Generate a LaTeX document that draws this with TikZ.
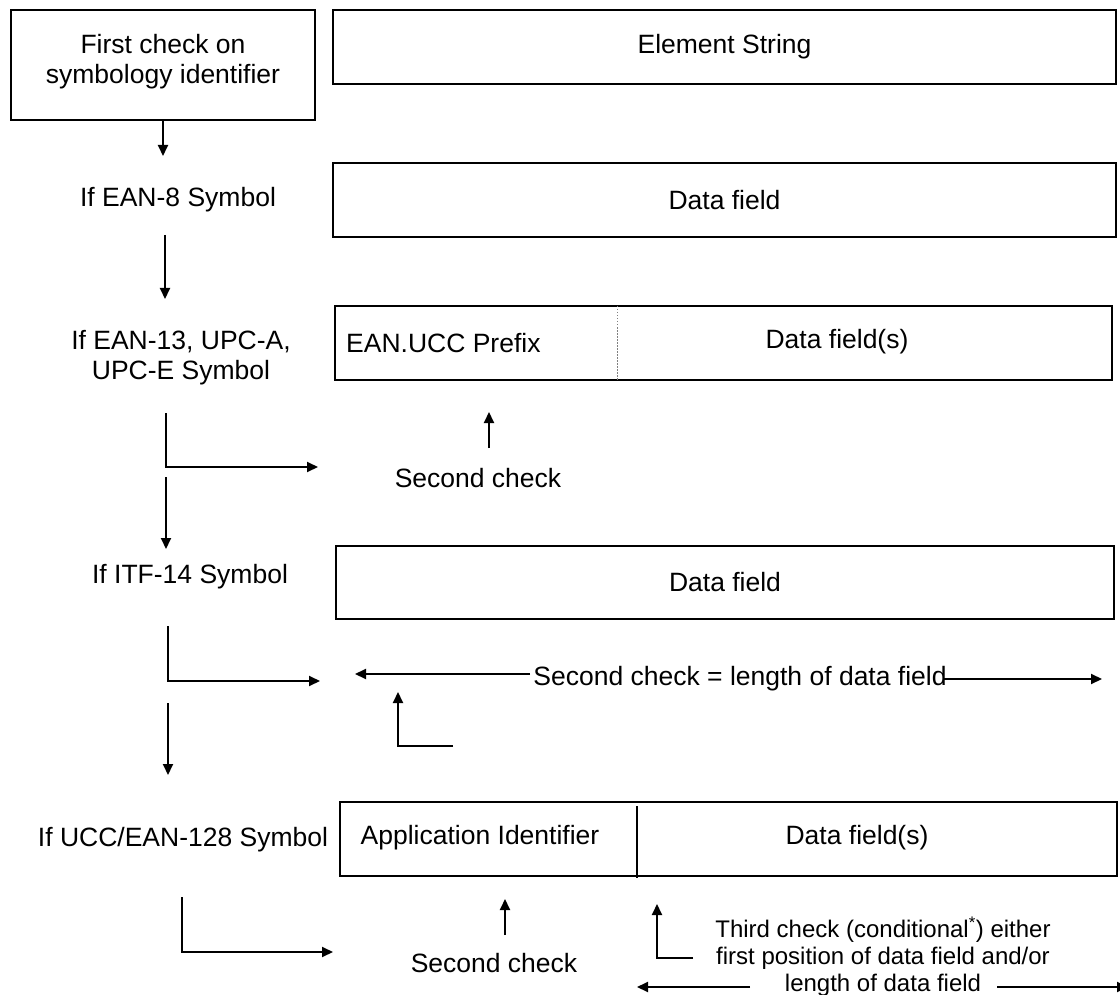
\documentclass[tikz,border=0pt]{standalone}
\usepackage{fontspec}
\setmainfont{Liberation Sans}
\usetikzlibrary{arrows.meta}
\begin{document}
\begin{tikzpicture}[x=1pt,y=-1pt,
  txt/.style={inner sep=0pt,font=\fontsize{26.5}{30}\selectfont,align=center},
  smalltxt/.style={inner sep=0pt,font=\fontsize{24}{27}\selectfont,align=center},
  box/.style={draw,line width=2.4pt,inner sep=0pt},
  conn/.style={line width=2pt,-{Triangle[length=11pt,width=10pt]}}]
\useasboundingbox (0,0) rectangle (1120,995);

% boxes
\node[box,minimum width=304pt,minimum height=110pt] (b1) at (163,65) {};
\node[txt] (b1t) at (163,62) {First check on\\symbology identifier};
\node[box,minimum width=783pt,minimum height=74pt] (es) at (724.5,47) {};
\node[txt] (est) at (724.5,47) {Element String};

\node[txt] (l1) at (178,200) {If EAN-8 Symbol};
\node[box,minimum width=783pt,minimum height=74pt] (df1) at (724.5,200) {};
\node[txt] (df1t) at (724.5,200) {Data field};

\node[txt] (l2) at (181,358) {If EAN-13, UPC-A,\\UPC-E Symbol};
\node[box,minimum width=777pt,minimum height=74pt] (ean) at (723.5,343) {};
\coordinate (eandt) at (617,306);
\coordinate (eandb) at (617,380);
\draw[gray,line width=1pt,dash pattern=on 1.5pt off 1.5pt] (eandt) -- (eandb);
\node[txt,anchor=west] (eanp) at (346,343) {EAN.UCC Prefix};
\node[txt] (eand) at (837,342) {Data field(s)};
\node[txt] (sc1) at (478,478) {Second check};

\node[txt] (l3) at (190,577) {If ITF-14 Symbol};
\node[box,minimum width=778pt,minimum height=73pt] (itf) at (725,582.5) {};
\node[txt] (itft) at (725,582) {Data field};
\node[txt] (sc2) at (740,679) {Second check = length of data field};

\node[txt] (l4) at (183,840) {If UCC/EAN-128 Symbol};
\node[box,minimum width=777pt,minimum height=74pt] (ucc) at (728.5,839) {};
\coordinate (uccdt) at (637,806);
\coordinate (uccdb) at (637,878);
\draw[line width=2pt] (uccdt) -- (uccdb);
\node[txt] (ai) at (480,838) {Application Identifier};
\node[txt] (uccd) at (857,838) {Data field(s)};
\node[txt] (sc3) at (494,963) {Second check};
\node[smalltxt] (tc) at (883,957) {Third check (conditional\textsuperscript{*}) either\\first position of data field and/or\\length of data field};

% coordinates
\coordinate (a1e) at (163,156);
\coordinate (a2s) at (165,235);
\coordinate (a2e) at (165,299);
\coordinate (e1s) at (166,413);
\coordinate (e1c) at (166,467);
\coordinate (e1e) at (318,467);
\coordinate (a3s) at (166,477);
\coordinate (a3e) at (166,549);
\coordinate (u1s) at (489,448);
\coordinate (u1e) at (489,412);
\coordinate (e2s) at (168,626);
\coordinate (e2c) at (168,681);
\coordinate (e2e) at (320,681);
\coordinate (lls) at (530,674);
\coordinate (lle) at (355,674);
\coordinate (lrs) at (943,679);
\coordinate (lre) at (1102,679);
\coordinate (uls) at (453,746);
\coordinate (ulc) at (398,746);
\coordinate (ule) at (398,692);
\coordinate (a4s) at (168,703);
\coordinate (a4e) at (168,775);
\coordinate (e3s) at (182,897);
\coordinate (e3c) at (182,952);
\coordinate (e3e) at (333,952);
\coordinate (u2s) at (505,935);
\coordinate (u2e) at (505,899);
\coordinate (tls) at (693,958);
\coordinate (tlc) at (657,958);
\coordinate (tle) at (657,904);
\coordinate (bls) at (750,987);
\coordinate (ble) at (637,987);
\coordinate (brs) at (997,987);
\coordinate (bre) at (1128,987);

% connectors
\draw[conn] (b1.south) -- (a1e);
\draw[conn] (a2s) -- (a2e);
\draw[conn] (e1s) -- (e1c) -- (e1e);
\draw[conn] (a3s) -- (a3e);
\draw[conn] (u1s) -- (u1e);
\draw[conn] (e2s) -- (e2c) -- (e2e);
\draw[conn] (lls) -- (lle);
\draw[conn] (lrs) -- (lre);
\draw[conn] (uls) -- (ulc) -- (ule);
\draw[conn] (a4s) -- (a4e);
\draw[conn] (e3s) -- (e3c) -- (e3e);
\draw[conn] (u2s) -- (u2e);
\draw[conn] (tls) -- (tlc) -- (tle);
\draw[conn] (bls) -- (ble);
\draw[conn] (brs) -- (bre);
\end{tikzpicture}
\end{document}
